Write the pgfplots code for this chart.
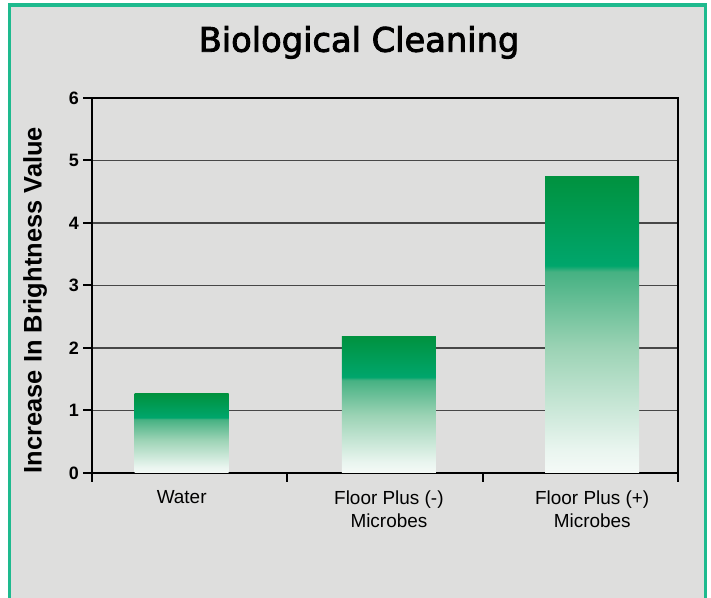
\documentclass[border=0pt]{standalone}
\usepackage{pgfplots}
\pgfplotsset{compat=1.18}
\usepackage{fontspec}
\setmainfont{Liberation Sans}
\newfontfamily\titlefont[FakeBold=2.6]{DejaVu Sans}
\definecolor{bggray}{HTML}{DEDEDD}
\definecolor{bordergreen}{HTML}{1EBA8E}
\definecolor{gA}{HTML}{F5FAF7}
\definecolor{gB}{HTML}{E9F5EF}
\definecolor{gC}{HTML}{9CD3B5}
\definecolor{gD}{HTML}{45B182}
\definecolor{gE}{HTML}{00A66C}
\definecolor{gF}{HTML}{00923F}
\pgfdeclareverticalshading{bargrad}{100bp}{color(0bp)=(gA); color(25bp)=(gA); color(29bp)=(gB); color(46bp)=(gC); color(59bp)=(gD); color(60bp)=(gE); color(75bp)=(gF); color(100bp)=(gF)}
\begin{document}
\begin{tikzpicture}[x=1bp,y=1bp]
\useasboundingbox (0,0) rectangle (711,598);
\fill[white] (0,0) rectangle (711,598);
\fill[bggray] (9.5,0) rectangle (705.5,593);
\draw[bordergreen, line width=3.2bp] (9.5,0) -- (9.5,593) -- (705.5,593) -- (705.5,0);
\begin{axis}[
  at={(92.3bp,125bp)}, anchor=south west,
  scale only axis, width=585.4bp, height=375bp,
  xmin=0, xmax=3, ymin=0, ymax=6,
  xtick={0,1,2,3}, xticklabels={},
  extra x ticks={0.458,1.52,2.562},
  extra x tick labels={Water, Floor Plus (-)\\Microbes, Floor Plus (+)\\Microbes},
  extra x tick style={major tick length=0pt, grid=none,
     tick label style={font=\fontsize{19}{23}\selectfont, align=center, yshift=-14bp}},
  ytick={0,1,2,3,4,5,6},
  yticklabels={\textbf{0},\textbf{1},\textbf{2},\textbf{3},\textbf{4},\textbf{5},\textbf{6}},
  yticklabel style={font=\fontsize{18}{20}\selectfont, xshift=-1bp},
  xtick pos=bottom, ytick pos=left,
  tick align=outside, major tick length=9bp,
  tick style={black, line width=2bp},
  axis line style={black, line width=2.2bp},
  ymajorgrids, grid style={color=black!72, line width=1.3bp},
  title={\titlefont\fontsize{33.8}{40}\selectfont Biological Cleaning},
  title style={at={(axis description cs:0.4556,1.1075)}, anchor=base},
  ylabel={\bfseries Increase In Brightness Value},
  ylabel style={font=\fontsize{25.5}{30}\selectfont, at={(axis description cs:-0.0979,0.461)}, anchor=center, rotate=0},
]
\addplot[ybar, bar width=94bp, bar shift=0pt, draw=none, shading=bargrad]
  coordinates {(0.458,1.265)};
\addplot[ybar, bar width=94bp, bar shift=0pt, draw=none, shading=bargrad]
  coordinates {(1.52,2.19)};
\addplot[ybar, bar width=94bp, bar shift=0pt, draw=none, shading=bargrad]
  coordinates {(2.562,4.74)};
\end{axis}
\end{tikzpicture}
\end{document}
